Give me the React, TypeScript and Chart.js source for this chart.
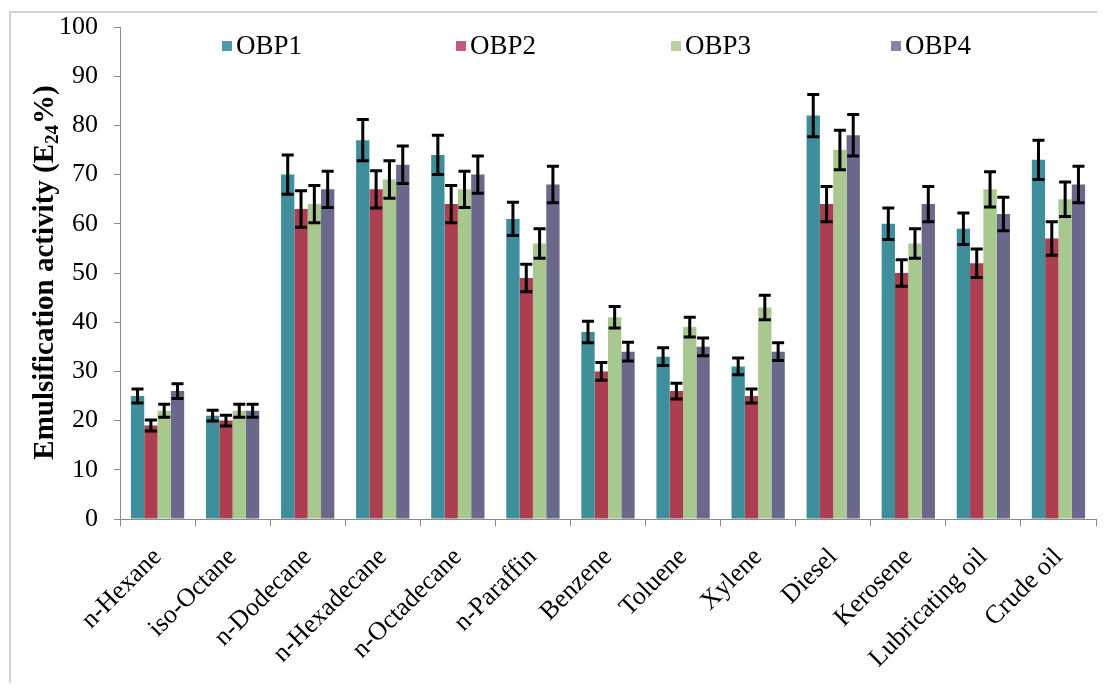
import React, { useEffect, useRef } from 'react';
import { Chart, registerables } from 'chart.js';

Chart.register(...registerables);

const categories = [
  'n-Hexane', 'iso-Octane', 'n-Dodecane', 'n-Hexadecane', 'n-Octadecane', 'n-Paraffin',
  'Benzene', 'Toluene', 'Xylene', 'Diesel', 'Kerosene', 'Lubricating oil', 'Crude oil',
];
const seriesNames = ['OBP1', 'OBP2', 'OBP3', 'OBP4'];
const obp1 = [25, 21, 70, 77, 74, 61, 38, 33, 31, 82, 60, 59, 73];
const obp2 = [19, 20, 63, 67, 64, 49, 30, 26, 25, 64, 50, 52, 57];
const obp3 = [22, 22, 64, 69, 67, 56, 41, 39, 43, 75, 56, 67, 65];
const obp4 = [26, 22, 67, 72, 70, 68, 34, 35, 34, 78, 64, 62, 68];
const err1 = [1.4, 1.1, 4.0, 4.2, 4.0, 3.4, 2.2, 1.8, 1.7, 4.3, 3.2, 3.2, 4.0];
const err2 = [1.1, 1.1, 3.7, 3.8, 3.8, 2.8, 1.8, 1.6, 1.4, 3.6, 2.7, 2.9, 3.4];
const err3 = [1.3, 1.3, 3.8, 3.8, 3.7, 3.0, 2.2, 2.0, 2.5, 4.0, 3.0, 3.6, 3.5];
const err4 = [1.5, 1.3, 3.7, 3.8, 3.8, 3.7, 1.9, 1.8, 1.8, 4.2, 3.6, 3.4, 3.7];
const yMin = 0;
const yMax = 100;
const yStep = 10;
const axisTitleMain = 'Emulsification activity (E';
const axisTitleSub = '24';
const axisTitleEnd = '%)';

const colors = ['#3f8e9b', '#ab3e50', '#a9c890', '#6b698b'];
const legendColors = ['#4b9bab', '#c25f78', '#b7d29e', '#8886a6'];
const serif = "'Liberation Serif', 'Times New Roman', Times, serif";

const decorPlugin = {
  id: 'decor',
  beforeDraw(chart: any) {
    const ctx = chart.ctx;
    ctx.save();
    ctx.strokeStyle = '#c4c4c4';
    ctx.lineWidth = 1.5;
    ctx.beginPath();
    ctx.moveTo(2, chart.height);
    ctx.lineTo(2, 4);
    ctx.lineTo(chart.width, 4);
    ctx.stroke();
    ctx.restore();
  },
  afterDatasetsDraw(chart: any) {
    const ctx = chart.ctx;
    const yScale = chart.scales.y;
    ctx.save();
    ctx.strokeStyle = '#000';
    ctx.lineWidth = 3;
    chart.data.datasets.forEach((ds: any, d: number) => {
      const meta = chart.getDatasetMeta(d);
      meta.data.forEach((bar: any, i: number) => {
        const v = ds.data[i];
        const e = ds.errors[i];
        const x = bar.x;
        const yt = yScale.getPixelForValue(v + e);
        const yb = yScale.getPixelForValue(v - e);
        const cw = 6;
        ctx.beginPath();
        ctx.moveTo(x, yt);
        ctx.lineTo(x, yb);
        ctx.moveTo(x - cw, yt);
        ctx.lineTo(x + cw, yt);
        ctx.moveTo(x - cw, yb);
        ctx.lineTo(x + cw, yb);
        ctx.stroke();
      });
    });
    ctx.restore();
  },
  afterDraw(chart: any) {
    const ctx = chart.ctx;
    const area = chart.chartArea;
    // legend
    const xs = [214, 448, 663, 883];
    const ly = 38;
    ctx.save();
    ctx.font = `27px ${serif}`;
    ctx.textBaseline = 'middle';
    ctx.textAlign = 'left';
    chart.data.datasets.forEach((ds: any, d: number) => {
      ctx.fillStyle = legendColors[d];
      ctx.fillRect(xs[d], ly - 5, 10, 10);
      ctx.fillStyle = '#000';
      ctx.fillText(ds.label, xs[d] + 14, ly + 1);
    });
    ctx.restore();
    // y-axis title with subscript
    ctx.save();
    ctx.translate(45, (area.top + area.bottom) / 2);
    ctx.rotate(-Math.PI / 2);
    ctx.fillStyle = '#000';
    ctx.textBaseline = 'alphabetic';
    ctx.textAlign = 'left';
    const mainFont = `bold 29px ${serif}`;
    const subFont = `bold 19px ${serif}`;
    ctx.font = mainFont;
    const w1 = ctx.measureText(axisTitleMain).width;
    const w3 = ctx.measureText(axisTitleEnd).width;
    ctx.font = subFont;
    const w2 = ctx.measureText(axisTitleSub).width;
    let x = -(w1 + w2 + w3) / 2;
    ctx.font = mainFont;
    ctx.fillText(axisTitleMain, x, 0);
    x += w1;
    ctx.font = subFont;
    ctx.fillText(axisTitleSub, x, 5);
    x += w2;
    ctx.font = mainFont;
    ctx.fillText(axisTitleEnd, x + 1, 0);
    ctx.restore();
  },
};

export default function App() {
  const ref = useRef<HTMLCanvasElement | null>(null);
  useEffect(() => {
    if (!ref.current) return;
    const series = [obp1, obp2, obp3, obp4];
    const errs = [err1, err2, err3, err4];
    const chart = new Chart(ref.current, {
      type: 'bar',
      data: {
        labels: categories,
        datasets: seriesNames.map((name, d) => ({
          label: name,
          data: series[d],
          errors: errs[d],
          backgroundColor: colors[d],
          borderWidth: 0,
          barPercentage: 1,
          categoryPercentage: 0.71,
        })) as any,
      },
      options: {
        animation: false,
        responsive: false,
        maintainAspectRatio: false,
        layout: { padding: { top: 19, right: 1, left: 0, bottom: 0 } },
        plugins: {
          legend: { display: false },
          tooltip: { enabled: false },
          title: { display: false },
        },
        scales: {
          x: {
            grid: {
              display: true,
              drawOnChartArea: false,
              drawTicks: true,
              tickLength: 7,
              color: '#8a8a8a',
              offset: true,
            },
            border: { display: true, color: '#8a8a8a', width: 1 },
            ticks: {
              color: '#000',
              font: { family: serif, size: 26 },
              maxRotation: 45,
              minRotation: 45,
              autoSkip: false,
              padding: 16,
            },
            afterFit(scale: any) {
              scale.height = 164;
            },
          },
          y: {
            min: yMin,
            max: yMax,
            ticks: {
              stepSize: yStep,
              color: '#000',
              font: { family: serif, size: 26 },
              padding: 16,
            },
            grid: {
              display: true,
              drawOnChartArea: false,
              drawTicks: true,
              tickLength: 6,
              color: '#8a8a8a',
            },
            border: { display: true, color: '#8a8a8a', width: 1 },
            afterFit(scale: any) {
              scale.width = 112;
              scale.paddingTop = 0;
              scale.paddingBottom = 0;
            },
          },
        },
      },
      plugins: [decorPlugin],
    });
    return () => chart.destroy();
  }, []);
  return (
    <div style={{ width: 1089, height: 675, background: '#fff' }}>
      <canvas ref={ref} width={1089} height={675} style={{ display: 'block' }} />
    </div>
  );
}
